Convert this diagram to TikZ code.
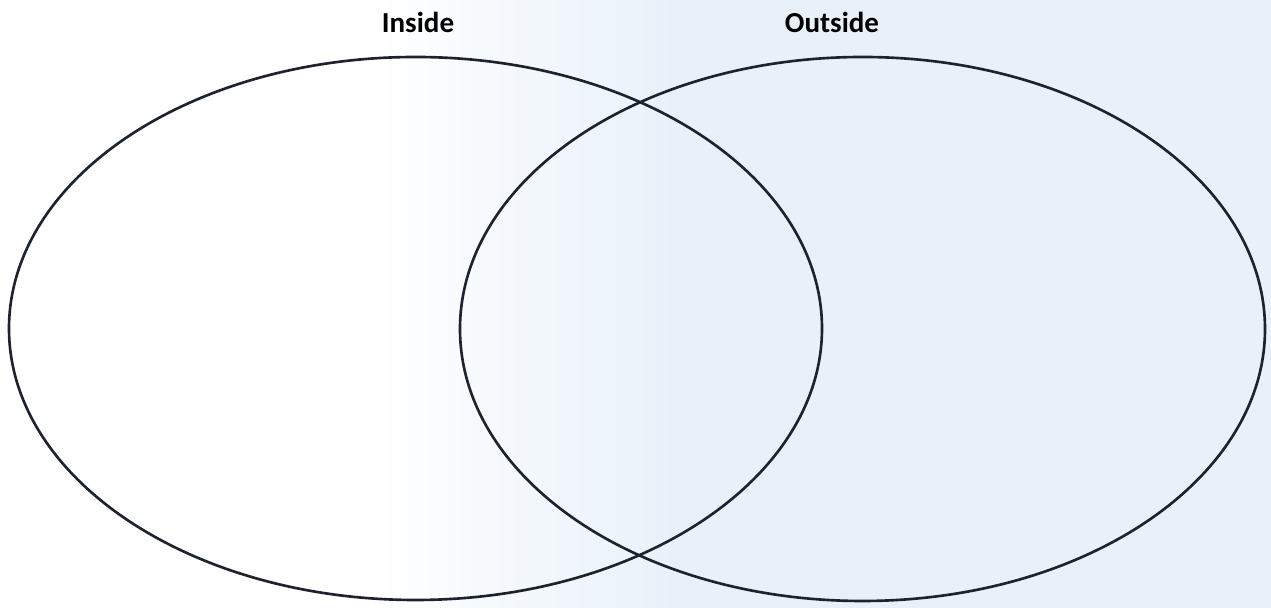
\documentclass[tikz,border=0pt]{standalone}
\usepackage{fontspec}
\setmainfont{Carlito}
\usetikzlibrary{shapes.geometric, positioning}
\definecolor{inkline}{RGB}{28, 34, 46}
\definecolor{scanblue}{RGB}{232, 241, 250}
\tikzset{
  setring/.style   = {ellipse, draw=inkline, line width=1.5pt, inner sep=0pt, minimum width=#1},
  setlabel/.style  = {font=\fontsize{16.5}{18}\selectfont\bfseries, text=black, inner sep=0pt},
}

\begin{document}
\begin{tikzpicture}
  \useasboundingbox (0,0) rectangle (25.42,12.16);
  \fill[white] (0,0) rectangle (25.42,12.16);
  \shade[left color=white, right color=scanblue] (7.5,0) rectangle (13.5,12.16);
  \fill[scanblue] (13.5,0) rectangle (25.42,12.16);

  \node[setring=16.26cm, minimum height=10.86cm] (inside)  at (8.31,5.59) {};
  \node[setring=16.10cm, minimum height=10.88cm] (outside) at (17.25,5.58) {};

  \node[setlabel] (insidelbl)  at (8.36,11.72)  {Inside};
  \node[setlabel] (outsidelbl) at (16.64,11.72) {Outside};
\end{tikzpicture}
\end{document}
